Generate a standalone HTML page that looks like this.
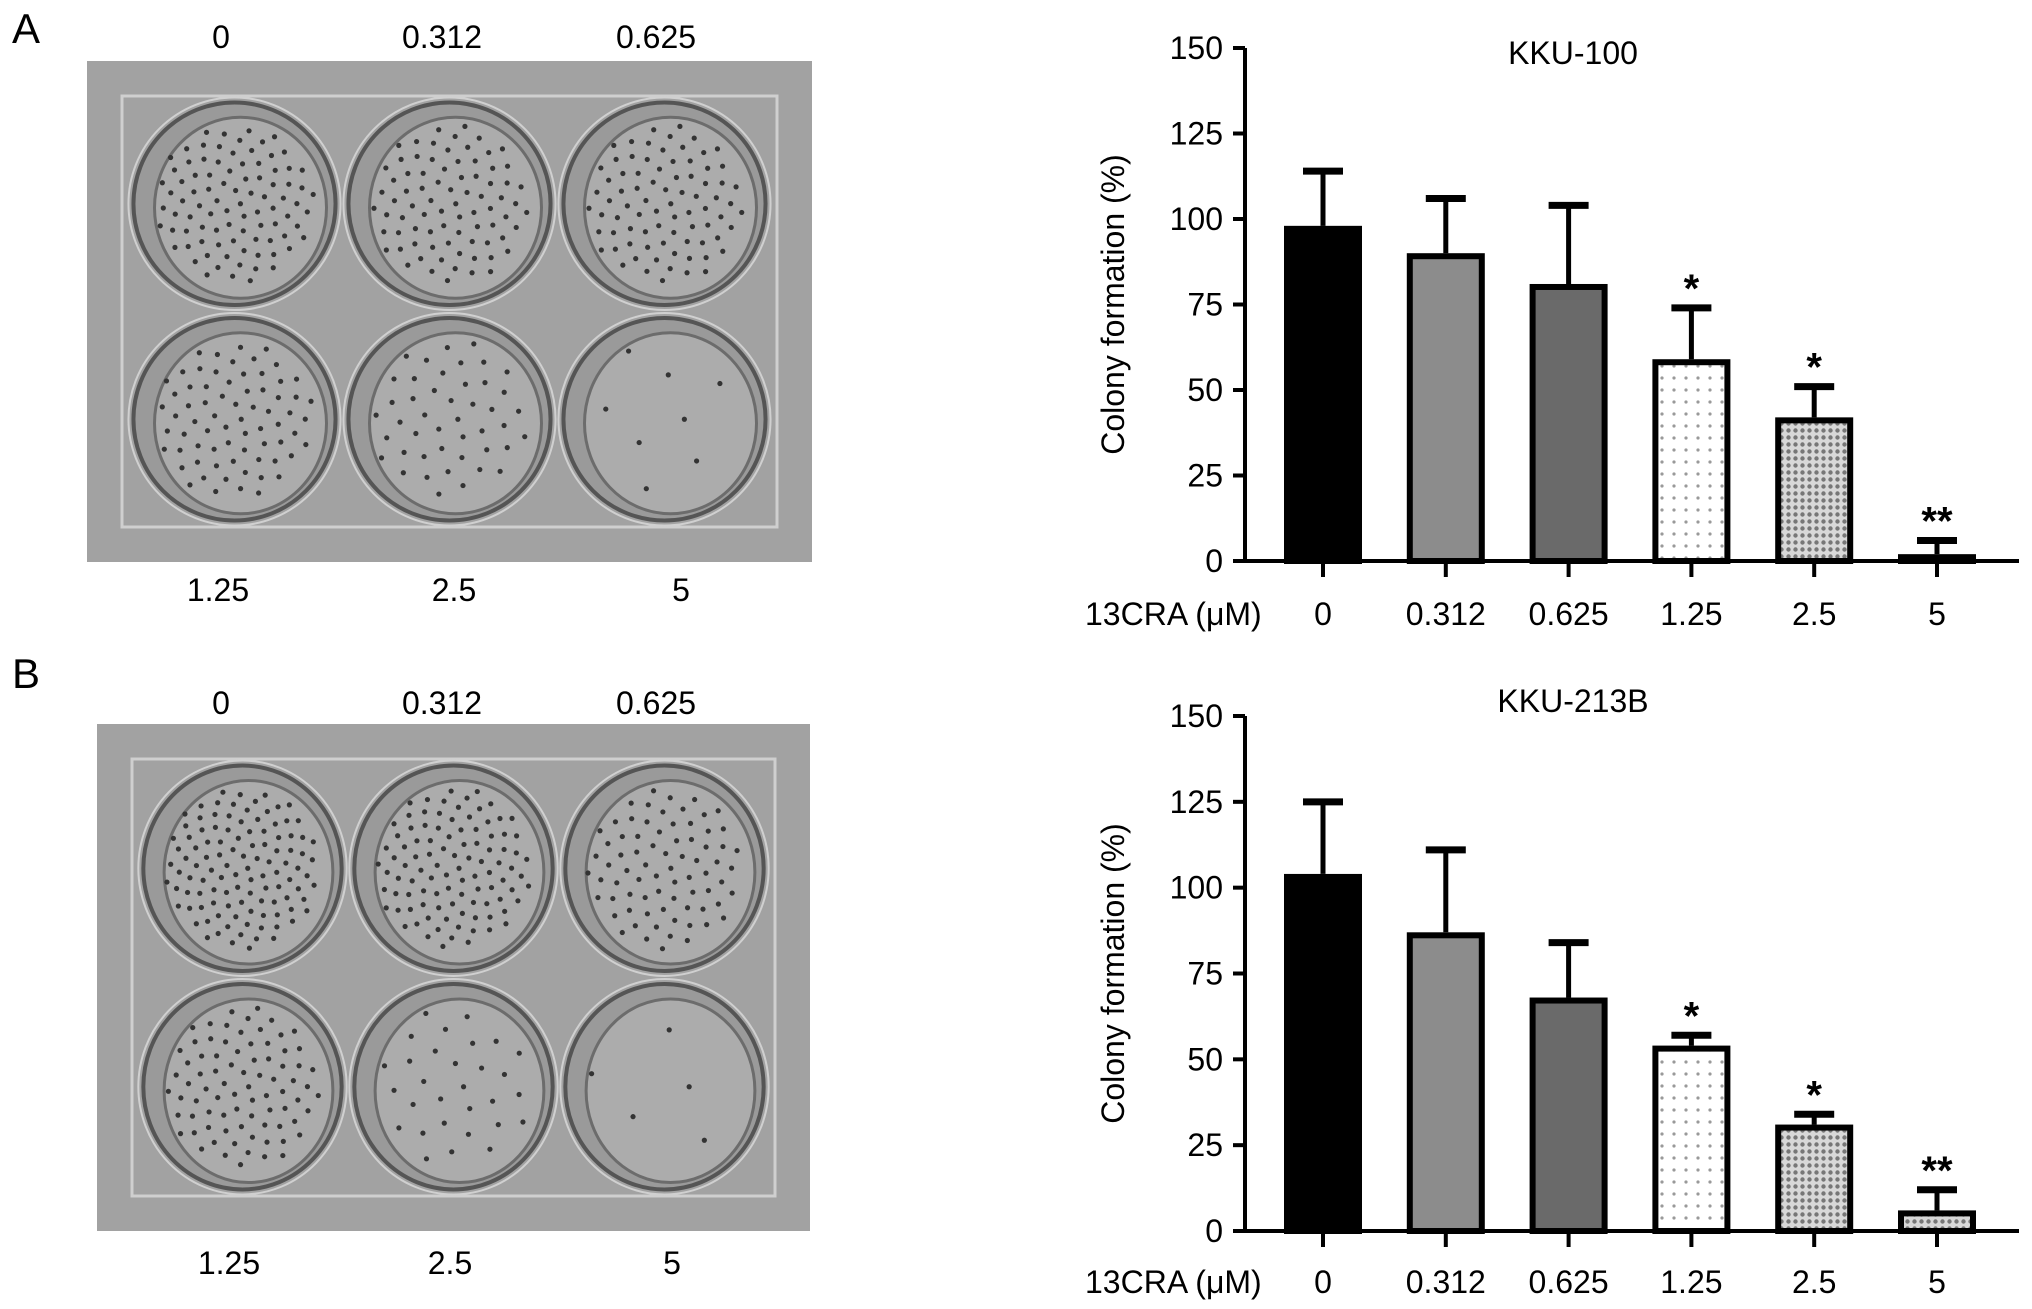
<!DOCTYPE html>
<html><head><meta charset="utf-8"><style>
html,body{margin:0;padding:0;background:#fff;}
svg{display:block;font-family:"Liberation Sans",sans-serif;}
</style></head><body>
<svg id="fig" width="2032" height="1309" viewBox="0 0 2032 1309" xmlns="http://www.w3.org/2000/svg">
<defs>
<pattern id="sparse" width="12" height="12" patternUnits="userSpaceOnUse"><rect width="12" height="12" fill="#fff"/><circle cx="6" cy="6" r="1.6" fill="#999"/></pattern>
<pattern id="dense" width="7" height="7" patternUnits="userSpaceOnUse"><rect width="7" height="7" fill="#d8d8d8"/><circle cx="3.5" cy="3.5" r="2.2" fill="#777"/></pattern>
</defs>
<g id="photos"></g>
<g id="charts"></g>
</svg>
<script>
const categories = ["0","0.312","0.625","1.25","2.5","5"];
const meansA = [98, 90, 81, 59, 42, 2];
const errA = [16, 16, 23, 15, 9, 4];
const sigA = ["", "", "", "*", "*", "**"];
const meansB = [104, 87, 68, 54, 31, 6];
const errB = [21, 24, 16, 3, 3, 6];
const sigB = ["", "", "", "*", "*", "**"];
const yTicks = [0, 25, 50, 75, 100, 125, 150];
const fills = ["#000", "#8c8c8c", "#6a6a6a", "url(#sparse)", "url(#dense)", "url(#dense)"];

const NS = "http://www.w3.org/2000/svg";
function mk(tag, attrs, parent, text){
  const e = document.createElementNS(NS, tag);
  for (const k in attrs) e.setAttribute(k, attrs[k]);
  if (text !== undefined) e.textContent = text;
  parent.appendChild(e);
  return e;
}
const photos = document.getElementById('photos');
const charts = document.getElementById('charts');

function plate(x0, y0, w, h, letter, letterY, topY, botY, topXs, botXs, topLabels, botLabels, dots){
  const g = mk('g', {}, photos);
  
  
  const L = mk('text', {x: 12, y: letterY, 'font-size': 42}, g, letter);
  
  
  mk('rect', {x: x0, y: y0, width: w, height: h, fill: '#a2a2a2'}, g);
  mk('rect', {x: x0+35, y: y0+35, width: w-70, height: h-70, fill: 'none', stroke: '#cfcfcf', 'stroke-width': 3}, g);
  const cw = (w-80)/3, ch = (h-70)/2;
  let k = 0;
  for (let r = 0; r < 2; r++) for (let c = 0; c < 3; c++){
    const cx = x0 + 40 + cw*(c+0.5), cy = y0 + 35 + ch*(r+0.5);
    const well = mk('ellipse', {cx: cx, cy: cy, rx: cw*0.47, ry: ch*0.47, fill: '#9a9a9a', stroke: '#555', 'stroke-width': 4}, g);
    
    
    mk('ellipse', {cx: cx+6, cy: cy+4, rx: cw*0.40, ry: ch*0.42, fill: '#acacac', stroke: '#6c6c6c', 'stroke-width': 3}, g);
    mk('ellipse', {cx: cx, cy: cy, rx: cw*0.47+5, ry: ch*0.47+5, fill: 'none', stroke: '#d0d0d0', 'stroke-width': 2}, g);
    const n = dots[k++];
    for (let i = 0; i < n; i++){
      const a = i*2.399, rr = Math.sqrt((i+0.5)/n)*0.88;
      mk('circle', {cx: cx + Math.cos(a)*rr*cw*0.42, cy: cy + Math.sin(a)*rr*ch*0.42, r: 2.6, fill: '#333'}, g);
    }
  }
  topLabels.forEach((t,i)=>{
    const e = mk('text', {x: topXs[i], y: topY, 'font-size': 32, 'text-anchor': 'middle'}, g, t);
    
    
  });
  botLabels.forEach((t,i)=>{
    const e = mk('text', {x: botXs[i], y: botY, 'font-size': 32, 'text-anchor': 'middle'}, g, t);
    
    
  });
}
plate(87, 61, 725, 501, 'A', 43, 48, 601, [221,442,656], [218,454,681], ["0","0.312","0.625"], ["1.25","2.5","5"], [90,80,80,70,45,8]);
plate(97, 724, 713, 507, 'B', 688, 714, 1274, [221,442,656], [229,450,672], ["0","0.312","0.625"], ["1.25","2.5","5"], [110,100,75,80,30,5]);

function chart(name, title, means, errs, sigs, yTop, yBot, titleY, labelY){
  const g = mk('g', {}, charts);
  
  
  const axX = 1245, axEnd = 2019;
  const y = v => yBot - (v/150)*(yBot - yTop);
  const xc = i => 1323 + i*122.8;
  const bw = 78;
  const ya = mk('line', {x1: axX, y1: yTop, x2: axX, y2: yBot+2, stroke: '#000', 'stroke-width': 4}, g);
  
  
  const xa = mk('line', {x1: axX, y1: yBot, x2: axEnd, y2: yBot, stroke: '#000', 'stroke-width': 4}, g);
  
  
  yTicks.forEach(t=>{
    mk('line', {x1: axX-12, y1: y(t), x2: axX, y2: y(t), stroke: '#000', 'stroke-width': 4}, g);
    const e = mk('text', {x: axX-22, y: y(t)+11, 'font-size': 32, 'text-anchor': 'end'}, g, t);
    
    
  });
  const yt = mk('text', {x: 0, y: 0, 'font-size': 32, 'text-anchor': 'middle', transform: `translate(1124,${(yTop+yBot)/2}) rotate(-90)`}, g, 'Colony formation (%)');
  
  
  const tt = mk('text', {x: 1573, y: titleY, 'font-size': 32, 'text-anchor': 'middle'}, g, title);
  
  
  const xl = mk('text', {x: 1085, y: labelY, 'font-size': 32}, g, '13CRA (\u03bcM)');
  
  
  means.forEach((m,i)=>{
    const cx = xc(i);
    mk('line', {x1: cx, y1: yBot, x2: cx, y2: yBot+16, stroke: '#000', 'stroke-width': 4}, g);
    const eb = mk('line', {x1: cx, y1: y(m), x2: cx, y2: y(m+errs[i]), stroke: '#000', 'stroke-width': 5}, g);
    
    
    mk('line', {x1: cx-20, y1: y(m+errs[i]), x2: cx+20, y2: y(m+errs[i]), stroke: '#000', 'stroke-width': 7}, g);
    const h = Math.max(yBot - y(m), 2);
    const b = mk('rect', {x: cx-bw/2+3, y: yBot-h+3, width: bw-6, height: Math.max(h-3,1), fill: fills[i], stroke: '#000', 'stroke-width': 6}, g);
    
    
    const tl = mk('text', {x: cx, y: labelY, 'font-size': 32, 'text-anchor': 'middle'}, g, categories[i]);
    
    
    if (sigs[i]){
      const s = mk('text', {x: cx, y: y(m+errs[i]) - 6, 'font-size': 40, 'font-weight': 'bold', 'text-anchor': 'middle'}, g, sigs[i]);
      
      
    }
  });
}
chart('chart-kku-100', 'KKU-100', meansA, errA, sigA, 48, 561, 64, 625);
chart('chart-kku-213b', 'KKU-213B', meansB, errB, sigB, 716, 1231, 712, 1293);
</script>
</body></html>
